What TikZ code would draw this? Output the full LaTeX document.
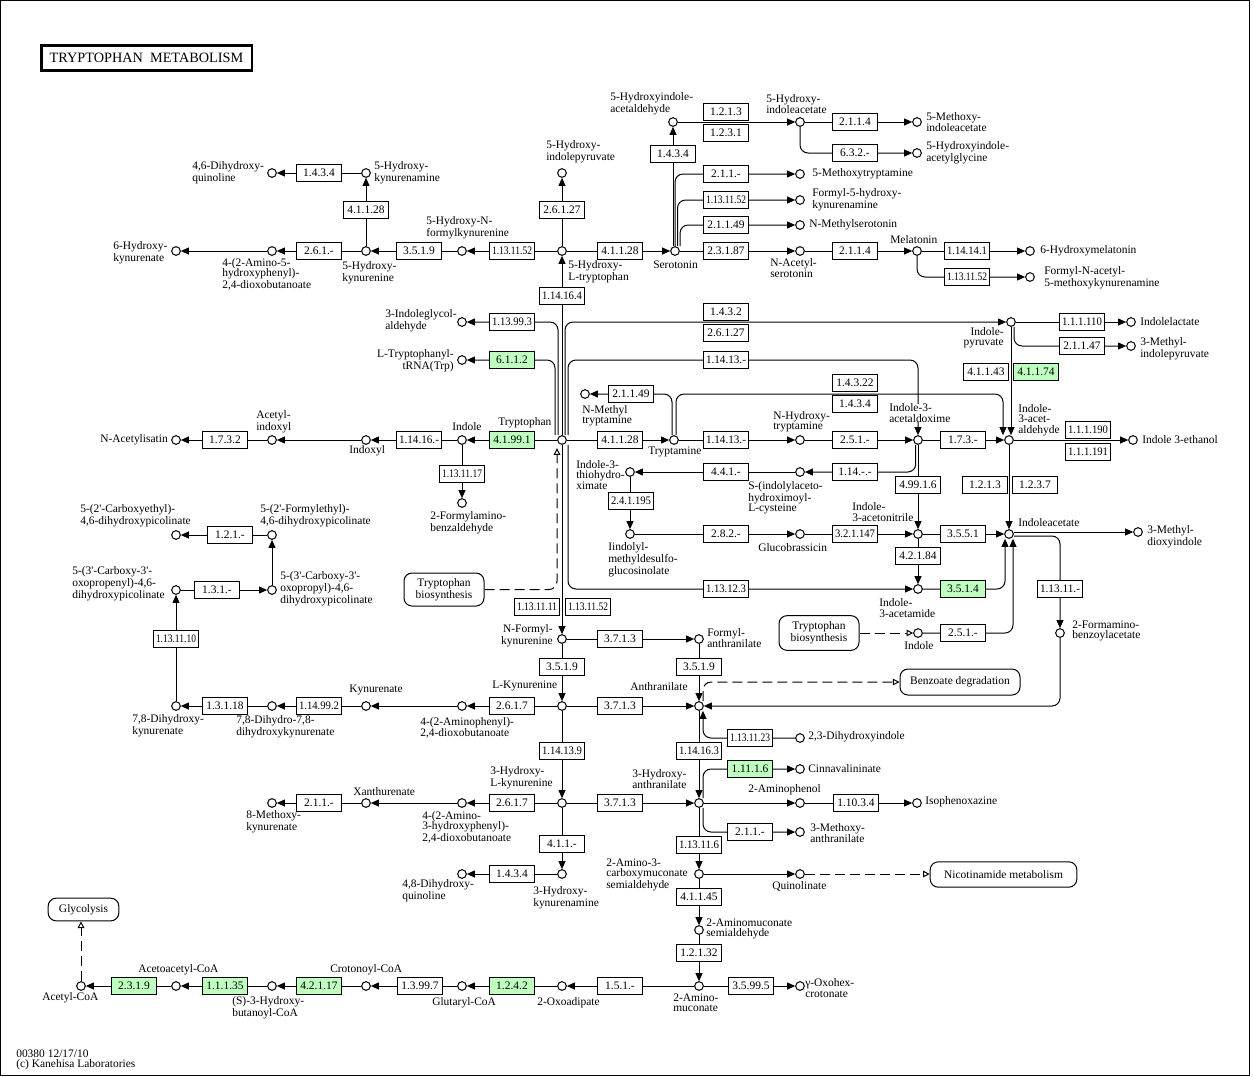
\documentclass[tikz,border=0pt]{standalone}
\usepackage{fontspec}
\setmainfont{Liberation Serif}
\usepackage{graphicx}
\usetikzlibrary{arrows.meta,backgrounds}
\definecolor{ecgreen}{RGB}{191,255,191}
\newcommand{\lblf}{\fontsize{8.6pt}{7.8pt}\selectfont}
\newcommand{\ecf}{\fontsize{8.6pt}{9pt}\selectfont}
\newcommand{\apos}{\textquotesingle}
\newsavebox{\ecbox}
\newcommand{\ecfit}[1]{\sbox{\ecbox}{#1}\ifdim\wd\ecbox>30pt\resizebox{30pt}{\height}{#1}\else\usebox{\ecbox}\fi}
\tikzset{
  cpd/.style={circle,draw,line width=0.75pt,minimum size=6.5pt,inner sep=0pt,fill=white},
  ecbx/.style={draw,line width=0.75pt,minimum width=34pt,minimum height=12.4pt,inner sep=0pt,font=\ecf,fill=white},
  ecgr/.style={ecbx,fill=ecgreen},
  lbl/.style={inner sep=0pt,align=left,font=\lblf},
  mapbx/.style={draw,line width=0.75pt,rounded corners=6pt,inner sep=0pt,align=center,font=\lblf,fill=white},
  conn/.style={line width=0.75pt},
  arr/.style={conn,-{Triangle[length=6pt,width=5.2pt]}},
  dsh/.style={line width=0.75pt,dash pattern=on 7.5pt off 3.75pt,-{Triangle[open,length=5pt,width=5pt,fill=white]}},
  rc/.style={rounded corners=6pt}
}
\begin{document}
\begin{tikzpicture}[x=0.75pt,y=-0.75pt]
\useasboundingbox (0,0) rectangle (1254,1076);
\draw[line width=0.75pt] (0.5,0.5) rectangle (1249,1075.5);
\node[draw,line width=2pt,minimum width=158pt,minimum height=18.5pt,inner sep=0pt,font=\fontsize{10.7pt}{11pt}\selectfont] (title) at (146.5,58) {TRYPTOPHAN\ \ METABOLISM};

% ---------- compounds ----------
\node[cpd] (hia) at (673,122) {};
\node[cpd] (hiaa) at (800,122) {};
\node[cpd] (mia) at (917,122) {};
\node[cpd] (higly) at (917,153) {};
\node[cpd] (hip) at (562,173) {};
\node[cpd] (htp) at (562,251) {};
\node[cpd] (hnfk) at (462,251) {};
\node[cpd] (hk) at (366,251) {};
\node[cpd] (ahd) at (272,251) {};
\node[cpd] (hkyna) at (176,251) {};
\node[cpd] (hkam) at (366,173) {};
\node[cpd] (dhqa) at (272,173) {};
\node[cpd] (sero) at (675,251) {};
\node[cpd] (mtam) at (800,174) {};
\node[cpd] (fhk) at (800,200) {};
\node[cpd] (nms) at (800,225) {};
\node[cpd] (nas) at (800,251) {};
\node[cpd] (mel) at (917,251) {};
\node[cpd] (hmel) at (1030,251) {};
\node[cpd] (famk) at (1030,277) {};
\node[cpd] (igald) at (462,322) {};
\node[cpd] (trna) at (462,360) {};
\node[cpd] (trp) at (562,440) {};
\node[cpd] (ind) at (462,440) {};
\node[cpd] (indx) at (366,440) {};
\node[cpd] (acind) at (272,440) {};
\node[cpd] (nai) at (176,440) {};
\node[cpd] (fab) at (462,503) {};
\node[cpd] (tam) at (674,440) {};
\node[cpd] (nmt) at (585,394) {};
\node[cpd] (nht) at (800,440) {};
\node[cpd] (iaox) at (918,440) {};
\node[cpd] (iald) at (1009,440) {};
\node[cpd] (ieth) at (1133,440) {};
\node[cpd] (ipyr) at (1011,322) {};
\node[cpd] (ilac) at (1131,322) {};
\node[cpd] (mip) at (1131,346) {};
\node[cpd] (ith) at (630,472) {};
\node[cpd] (sic) at (800,472) {};
\node[cpd] (imd) at (630,534) {};
\node[cpd] (gbr) at (800,534) {};
\node[cpd] (ian) at (918,534) {};
\node[cpd] (iaa) at (1009,534) {};
\node[cpd] (mdi) at (1138,532) {};
\node[cpd] (iam) at (918,589) {};
\node[cpd] (indb) at (918,633) {};
\node[cpd] (fba) at (1060,633) {};
\node[cpd] (cep) at (176,535) {};
\node[cpd] (fep) at (272,535) {};
\node[cpd] (copl) at (272,590) {};
\node[cpd] (cope) at (176,590) {};
\node[cpd] (nfk) at (562,639) {};
\node[cpd] (fan) at (699,639) {};
\node[cpd] (lkyn) at (562,706) {};
\node[cpd] (anth) at (699,706) {};
\node[cpd] (apd) at (462,706) {};
\node[cpd] (kyna) at (366,706) {};
\node[cpd] (dhdk) at (272,706) {};
\node[cpd] (dhk) at (176,706) {};
\node[cpd] (hkb) at (562,803) {};
\node[cpd] (haa) at (699,803) {};
\node[cpd] (ahpd) at (462,803) {};
\node[cpd] (xan) at (366,803) {};
\node[cpd] (mkyn) at (272,803) {};
\node[cpd] (hkamb) at (562,874) {};
\node[cpd] (dhqb) at (462,874) {};
\node[cpd] (dhi) at (800,738) {};
\node[cpd] (cinn) at (800,769) {};
\node[cpd] (aph) at (800,803) {};
\node[cpd] (iso) at (917,803) {};
\node[cpd] (man) at (800,832) {};
\node[cpd] (acms) at (699,874) {};
\node[cpd] (quin) at (800,874) {};
\node[cpd] (ams) at (699,930) {};
\node[cpd] (amu) at (699,986) {};
\node[cpd] (oxo) at (800,986) {};
\node[cpd] (oxad) at (562,986) {};
\node[cpd] (glut) at (462,986) {};
\node[cpd] (crot) at (366,986) {};
\node[cpd] (hbut) at (272,986) {};
\node[cpd] (acac) at (176,986) {};
\node[cpd] (acoa) at (81,986) {};

% ---------- map boxes ----------
\node[mapbx,minimum width=60pt,minimum height=24.75pt] (trpbio1) at (444,589.5) {Tryptophan\\biosynthesis};
\node[mapbx,minimum width=60pt,minimum height=26pt] (trpbio2) at (819,633) {Tryptophan\\biosynthesis};
\node[mapbx,minimum width=90pt,minimum height=19.5pt] (benz) at (960,682) {Benzoate degradation};
\node[mapbx,minimum width=110pt,minimum height=19pt] (nico) at (1003.5,874.5) {Nicotinamide metabolism};
\node[mapbx,minimum width=53pt,minimum height=17pt] (glyc) at (83.5,909.5) {Glycolysis};

% ---------- enzymes ----------
\node[ecbx] (e1) at (726,112) {\ecfit{1.2.1.3}};
\node[ecbx] (e2) at (726,133) {\ecfit{1.2.3.1}};
\node[ecbx] (e3) at (855,122) {\ecfit{2.1.1.4}};
\node[ecbx] (e4) at (855,153) {\ecfit{6.3.2.-}};
\node[ecbx] (e5) at (673,154) {\ecfit{1.4.3.4}};
\node[ecbx] (e6) at (726,174) {\ecfit{2.1.1.-}};
\node[ecbx] (e7) at (726,200) {\ecfit{1.13.11.52}};
\node[ecbx] (e8) at (726,225) {\ecfit{2.1.1.49}};
\node[ecbx] (e9) at (726,251) {\ecfit{2.3.1.87}};
\node[ecbx] (e10) at (855,251) {\ecfit{2.1.1.4}};
\node[ecbx] (e11) at (967,251) {\ecfit{1.14.14.1}};
\node[ecbx] (e12) at (967,277) {\ecfit{1.13.11.52}};
\node[ecbx] (e13) at (620,251) {\ecfit{4.1.1.28}};
\node[ecbx] (e14) at (562,210) {\ecfit{2.6.1.27}};
\node[ecbx] (e15) at (512,251) {\ecfit{1.13.11.52}};
\node[ecbx] (e16) at (419,251) {\ecfit{3.5.1.9}};
\node[ecbx] (e17) at (319,251) {\ecfit{2.6.1.-}};
\node[ecbx] (e18) at (366,210) {\ecfit{4.1.1.28}};
\node[ecbx] (e19) at (319,173) {\ecfit{1.4.3.4}};
\node[ecbx] (e20) at (562,296) {\ecfit{1.14.16.4}};
\node[ecbx] (e21) at (512,322) {\ecfit{1.13.99.3}};
\node[ecgr] (e22) at (512,360) {\ecfit{6.1.1.2}};
\node[ecbx] (e23) at (726,312) {\ecfit{1.4.3.2}};
\node[ecbx] (e24) at (726,333) {\ecfit{2.6.1.27}};
\node[ecbx] (e25) at (726,360) {\ecfit{1.14.13.-}};
\node[ecgr] (e26) at (512,440) {\ecfit{4.1.99.1}};
\node[ecbx] (e27) at (419,440) {\ecfit{1.14.16.-}};
\node[ecbx] (e28) at (225,440) {\ecfit{1.7.3.2}};
\node[ecbx] (e29) at (462,474) {\ecfit{1.13.11.17}};
\node[ecbx] (e30) at (620,440) {\ecfit{4.1.1.28}};
\node[ecbx] (e31) at (631,394) {\ecfit{2.1.1.49}};
\node[ecbx] (e32) at (726,440) {\ecfit{1.14.13.-}};
\node[ecbx] (e33) at (855,440) {\ecfit{2.5.1.-}};
\node[ecbx] (e34) at (963,440) {\ecfit{1.7.3.-}};
\node[ecbx] (e35) at (1088,430) {\ecfit{1.1.1.190}};
\node[ecbx] (e36) at (1088,452) {\ecfit{1.1.1.191}};
\node[ecbx] (e37) at (855,383) {\ecfit{1.4.3.22}};
\node[ecbx] (e38) at (855,404) {\ecfit{1.4.3.4}};
\node[ecbx] (e39) at (1082,322) {\ecfit{1.1.1.110}};
\node[ecbx] (e40) at (1082,346) {\ecfit{2.1.1.47}};
\node[ecbx] (e41) at (986,372) {\ecfit{4.1.1.43}};
\node[ecgr] (e42) at (1036,372) {\ecfit{4.1.1.74}};
\node[ecbx] (e43) at (726,472) {\ecfit{4.4.1.-}};
\node[ecbx] (e44) at (855,472) {\ecfit{1.14.-.-}};
\node[ecbx] (e45) at (631,501) {\ecfit{2.4.1.195}};
\node[ecbx] (e46) at (726,534) {\ecfit{2.8.2.-}};
\node[ecbx] (e47) at (855,534) {\ecfit{3.2.1.147}};
\node[ecbx] (e48) at (918,485) {\ecfit{4.99.1.6}};
\node[ecbx] (e49) at (985,485) {\ecfit{1.2.1.3}};
\node[ecbx] (e50) at (1035,485) {\ecfit{1.2.3.7}};
\node[ecbx] (e51) at (963,534) {\ecfit{3.5.5.1}};
\node[ecbx] (e52) at (918,556) {\ecfit{4.2.1.84}};
\node[ecgr] (e53) at (963,589) {\ecfit{3.5.1.4}};
\node[ecbx] (e54) at (726,589) {\ecfit{1.13.12.3}};
\node[ecbx] (e55) at (1060,589) {\ecfit{1.13.11.-}};
\node[ecbx] (e56) at (963,633) {\ecfit{2.5.1.-}};
\node[ecbx] (e57) at (537,607) {\ecfit{1.13.11.11}};
\node[ecbx] (e58) at (588,607) {\ecfit{1.13.11.52}};
\node[ecbx] (e59) at (230,535) {\ecfit{1.2.1.-}};
\node[ecbx] (e60) at (217,590) {\ecfit{1.3.1.-}};
\node[ecbx] (e61) at (176,639) {\ecfit{1.13.11.10}};
\node[ecbx] (e62) at (620,639) {\ecfit{3.7.1.3}};
\node[ecbx] (e63) at (562,667) {\ecfit{3.5.1.9}};
\node[ecbx] (e64) at (699,667) {\ecfit{3.5.1.9}};
\node[ecbx] (e65) at (620,706) {\ecfit{3.7.1.3}};
\node[ecbx] (e66) at (512,706) {\ecfit{2.6.1.7}};
\node[ecbx] (e67) at (319,706) {\ecfit{1.14.99.2}};
\node[ecbx] (e68) at (225,706) {\ecfit{1.3.1.18}};
\node[ecbx] (e69) at (562,751) {\ecfit{1.14.13.9}};
\node[ecbx] (e70) at (699,751) {\ecfit{1.14.16.3}};
\node[ecbx] (e71) at (750,738) {\ecfit{1.13.11.23}};
\node[ecgr] (e72) at (750,769) {\ecfit{1.11.1.6}};
\node[ecbx] (e73) at (620,803) {\ecfit{3.7.1.3}};
\node[ecbx] (e74) at (512,803) {\ecfit{2.6.1.7}};
\node[ecbx] (e75) at (319,803) {\ecfit{2.1.1.-}};
\node[ecbx] (e76) at (856,803) {\ecfit{1.10.3.4}};
\node[ecbx] (e77) at (750,832) {\ecfit{2.1.1.-}};
\node[ecbx] (e78) at (562,844) {\ecfit{4.1.1.-}};
\node[ecbx] (e79) at (512,874) {\ecfit{1.4.3.4}};
\node[ecbx] (e80) at (699,845) {\ecfit{1.13.11.6}};
\node[ecbx] (e81) at (699,897) {\ecfit{4.1.1.45}};
\node[ecbx] (e82) at (699,953) {\ecfit{1.2.1.32}};
\node[ecbx] (e83) at (751,986) {\ecfit{3.5.99.5}};
\node[ecbx] (e84) at (620,986) {\ecfit{1.5.1.-}};
\node[ecgr] (e85) at (512,986) {\ecfit{1.2.4.2}};
\node[ecbx] (e86) at (420,986) {\ecfit{1.3.99.7}};
\node[ecgr] (e87) at (319,986) {\ecfit{4.2.1.17}};
\node[ecgr] (e88) at (225,986) {\ecfit{1.1.1.35}};
\node[ecgr] (e89) at (134,986) {\ecfit{2.3.1.9}};

% ---------- labels ----------
\node[lbl,anchor=west] (l1) at (610,104) {5-Hydroxyindole-\\acetaldehyde};
\node[lbl,anchor=west] (l2) at (766,104) {5-Hydroxy-\\indoleacetate};
\node[lbl,anchor=west] (l3) at (926,122) {5-Methoxy-\\indoleacetate};
\node[lbl,anchor=west] (l4) at (926,153) {5-Hydroxyindole-\\acetylglycine};
\node[lbl,anchor=west] (l5) at (812,174) {5-Methoxytryptamine};
\node[lbl,anchor=west] (l6) at (812,200) {Formyl-5-hydroxy-\\kynurenamine};
\node[lbl,anchor=west] (l7) at (809,225) {N-Methylserotonin};
\node[lbl,anchor=west] (l8) at (770,268) {N-Acetyl-\\serotonin};
\node[lbl,anchor=west] (l9) at (890,240) {Melatonin};
\node[lbl,anchor=west] (l10) at (1040,251) {6-Hydroxymelatonin};
\node[lbl,anchor=west] (l11) at (1044,278) {Formyl-N-acetyl-\\5-methoxykynurenamine};
\node[lbl,anchor=west] (l12) at (653,265) {Serotonin};
\node[lbl,anchor=west] (l13) at (546,152) {5-Hydroxy-\\indolepyruvate};
\node[lbl,anchor=west] (l14) at (568,272) {5-Hydroxy-\\L-tryptophan};
\node[lbl,anchor=west] (l15) at (426,228) {5-Hydroxy-N-\\formylkynurenine};
\node[lbl,anchor=west] (l16) at (342,273) {5-Hydroxy-\\kynurenine};
\node[lbl,anchor=west] (l17) at (222,274) {4-(2-Amino-5-\\hydroxyphenyl)-\\2,4-dioxobutanoate};
\node[lbl,anchor=west] (l18) at (113,253) {6-Hydroxy-\\kynurenate};
\node[lbl,anchor=west] (l19) at (192,173) {4,6-Dihydroxy-\\quinoline};
\node[lbl,anchor=west] (l20) at (374,173) {5-Hydroxy-\\kynurenamine};
\node[lbl,anchor=west] (l21) at (385,321) {3-Indoleglycol-\\aldehyde};
\node[lbl,anchor=east,align=right] (l22) at (454,361) {L-Tryptophanyl-\\tRNA(Trp)};
\node[lbl,anchor=west] (l23) at (498,423) {Tryptophan};
\node[lbl,anchor=west] (l24) at (452,427) {Indole};
\node[lbl,anchor=west] (l25) at (349,451) {Indoxyl};
\node[lbl,anchor=west] (l26) at (256,422) {Acetyl-\\indoxyl};
\node[lbl,anchor=west] (l27) at (100,440) {N-Acetylisatin};
\node[lbl,anchor=west] (l28) at (430,523) {2-Formylamino-\\benzaldehyde};
\node[lbl,anchor=west] (l29) at (582,416) {N-Methyl\\tryptamine};
\node[lbl,anchor=west] (l30) at (648,452) {Tryptamine};
\node[lbl,anchor=west] (l31) at (773,422) {N-Hydroxy-\\tryptamine};
\node[lbl,anchor=west,fill=white] (l32) at (889,413) {Indole-3-\\acetaldoxime};
\node[lbl,anchor=west] (l33) at (1018,420) {Indole-\\3-acet-\\aldehyde};
\node[lbl,anchor=west] (l34) at (1142,440) {Indole 3-ethanol};
\node[lbl,anchor=east,align=right] (l35) at (1004,338) {Indole-\\pyruvate};
\node[lbl,anchor=west] (l36) at (1140,322) {Indolelactate};
\node[lbl,anchor=west] (l37) at (1140,349) {3-Methyl-\\indolepyruvate};
\node[lbl,anchor=west] (l38) at (576,475) {Indole-3-\\thiohydro-\\ximate};
\node[lbl,anchor=west] (l39) at (748,498) {S-(indolylaceto-\\hydroximoyl-\\L-cysteine};
\node[lbl,anchor=west] (l40) at (608,560) {Iindolyl-\\methyldesulfo-\\glucosinolate};
\node[lbl,anchor=west] (l41) at (758,548) {Glucobrassicin};
\node[lbl,anchor=west] (l42) at (852,512) {Indole-\\3-acetonitrile};
\node[lbl,anchor=west] (l43) at (1018,523) {Indoleacetate};
\node[lbl,anchor=west] (l44) at (1147,537) {3-Methyl-\\dioxyindole};
\node[lbl,anchor=west] (l45) at (879,608) {Indole-\\3-acetamide};
\node[lbl,anchor=west] (l46) at (904,646) {Indole};
\node[lbl,anchor=west] (l47) at (1072,631) {2-Formamino-\\benzoylacetate};
\node[lbl,anchor=west] (l48) at (80,516) {5-(2\apos-Carboxyethyl)-\\4,6-dihydroxypicolinate};
\node[lbl,anchor=west] (l49) at (260,516) {5-(2\apos-Formylethyl)-\\4,6-dihydroxypicolinate};
\node[lbl,anchor=west] (l50) at (280,589) {5-(3\apos-Carboxy-3\apos-\\oxopropyl)-4,6-\\dihydroxypicolinate};
\node[lbl,anchor=west] (l51) at (72,584) {5-(3\apos-Carboxy-3\apos-\\oxopropenyl)-4,6-\\dihydroxypicolinate};
\node[lbl,anchor=east,align=right] (l52) at (553,636) {N-Formyl-\\kynurenine};
\node[lbl,anchor=west] (l53) at (707,638) {Formyl-\\anthranilate};
\node[lbl,anchor=west] (l54) at (492,686) {L-Kynurenine};
\node[lbl,anchor=west] (l55) at (630,687) {Anthranilate};
\node[lbl,anchor=west] (l56) at (420,728) {4-(2-Aminophenyl)-\\2,4-dioxobutanoate};
\node[lbl,anchor=west] (l57) at (349,690) {Kynurenate};
\node[lbl,anchor=west] (l58) at (236,727) {7,8-Dihydro-7,8-\\dihydroxykynurenate};
\node[lbl,anchor=west] (l59) at (132,726) {7,8-Dihydroxy-\\kynurenate};
\node[lbl,anchor=west] (l60) at (490,778) {3-Hydroxy-\\L-kynurenine};
\node[lbl,anchor=west] (l61) at (632,779) {3-Hydroxy-\\anthranilate};
\node[lbl,anchor=west] (l62) at (422,827) {4-(2-Amino-\\3-hydroxyphenyl)-\\2,4-dioxobutanoate};
\node[lbl,anchor=west] (l63) at (353,792) {Xanthurenate};
\node[lbl,anchor=west] (l64) at (246,822) {8-Methoxy-\\kynurenate};
\node[lbl,anchor=west] (l65) at (808,737) {2,3-Dihydroxyindole};
\node[lbl,anchor=west] (l66) at (808,769) {Cinnavalininate};
\node[lbl,anchor=west] (l67) at (748,790) {2-Aminophenol};
\node[lbl,anchor=west] (l68) at (925,802) {Isophenoxazine};
\node[lbl,anchor=west] (l69) at (810,833) {3-Methoxy-\\anthranilate};
\node[lbl,anchor=west] (l70) at (606,875) {2-Amino-3-\\carboxymuconate\\semialdehyde};
\node[lbl,anchor=west] (l71) at (772,886) {Quinolinate};
\node[lbl,anchor=west] (l72) at (533,898) {3-Hydroxy-\\kynurenamine};
\node[lbl,anchor=west] (l73) at (402,891) {4,8-Dihydroxy-\\quinoline};
\node[lbl,anchor=west] (l74) at (706,929) {2-Aminomuconate\\semialdehyde};
\node[lbl,anchor=west] (l75) at (673,1003) {2-Amino-\\muconate};
\node[lbl,anchor=west] (l76) at (805,988) {γ-Oxohex-\\crotonate};
\node[lbl,anchor=west] (l77) at (537,1003) {2-Oxoadipate};
\node[lbl,anchor=west] (l78) at (432,1003) {Glutaryl-CoA};
\node[lbl,anchor=west] (l79) at (330,970) {Crotonoyl-CoA};
\node[lbl,anchor=west] (l80) at (232,1008) {(S)-3-Hydroxy-\\butanoyl-CoA};
\node[lbl,anchor=west] (l81) at (138,970) {Acetoacetyl-CoA};
\node[lbl,anchor=west] (l82) at (42,998) {Acetyl-CoA};
\node[lbl,anchor=west] (l83) at (16,1060) {00380 12/17/10\\(c) Kanehisa Laboratories};

% ---------- connectors ----------
\begin{scope}[on background layer]
\coordinate (trp-d) at ([xshift=-3.75pt,yshift=-2.5pt]trp.south);
\coordinate (iald-a) at ([xshift=-4.5pt]iald.north);
\coordinate (iald-b) at ([xshift=1.5pt]iald.north);
\coordinate (iaa-a) at ([xshift=-3pt]iaa.south);
\coordinate (iaa-b) at ([xshift=3pt]iaa.south);
\coordinate (anth-b) at ([xshift=3pt]anth.south);
\coordinate (iaox-c) at (iaox |- e25);
% top
\draw[arr] (hia) -- (hiaa);
\draw[arr] (hiaa) -- (mia);
\draw[arr,rc] (hiaa) |- (higly);
\draw[arr] (sero.north -| hia) -- (hia);
\draw[arr,rc] (sero.north) |- (mtam);
\draw[arr,rc] ([xshift=1.9pt]sero.north) |- (fhk);
\draw[arr,rc] ([xshift=3.8pt]sero.north) |- (nms);
\draw[arr] (sero) -- (nas);
\draw[arr] (nas) -- (mel);
\draw[arr] (mel) -- (hmel);
\draw[arr,rc] (mel) |- (famk);
\draw[arr] (htp) -- (sero);
\draw[arr] (htp) -- (hip);
\draw[arr] (htp) -- (hnfk);
\draw[arr] (hnfk) -- (hk);
\draw[arr] (hk) -- (ahd);
\draw[arr] (ahd) -- (hkyna);
\draw[arr] (hk) -- (hkam);
\draw[arr] (hkam) -- (dhqa);
% tryptophan
\draw[arr] (trp) -- (htp);
\draw[arr,rc] ([xshift=-3pt]trp.north) |- (igald);
\draw[arr,rc] ([xshift=-5.25pt]trp.north) |- (trna);
\draw[arr,rc] ([xshift=2.25pt]trp.north) |- (ipyr);
\draw[arr,rc] ([xshift=4.5pt]trp.north) |- (iaox-c) -- (iaox);
\draw[arr,rc] ([xshift=4.5pt]trp.south) |- (iam);
\draw[arr] (trp) -- (nfk);
\draw[arr] (trp) -- (ind);
\draw[arr] (ind) -- (indx);
\draw[arr] (indx) -- (acind);
\draw[arr] (acind) -- (nai);
\draw[arr] (ind) -- (fab);
\draw[dsh,rc] (trpbio1.east) -| (trp-d);
\draw[arr] (trp) -- (tam);
\draw[arr,rc] ([xshift=-1.5pt]tam.north) |- (nmt);
\draw[arr,rc] ([xshift=1.5pt]tam.north) |- (iald-a |- nmt) -- (iald-a);
\draw[arr] (ipyr) -- (iald-b);
\draw[arr] (ipyr) -- (ilac);
\draw[arr,rc] ([xshift=2.25pt]ipyr.south) |- (mip);
\draw[arr] (tam) -- (nht);
\draw[arr] (nht) -- (iaox);
\draw[arr] (iaox) -- (iald);
\draw[arr] (iald) -- (ieth);
\draw[arr] (iald) -- (iaa);
\draw[arr] (iaox) -- (ian);
\draw[arr,rc] ([xshift=-1.7pt]iaox.south) |- (sic);
\draw[arr] (sic) -- (ith);
\draw[arr] (ith) -- (imd);
\draw[arr] (imd) -- (gbr);
\draw[arr] (gbr) -- (ian);
\draw[arr] (ian) -- (iaa);
\draw[arr] (ian) -- (iam);
\draw[arr,rc] (iam) -| (iaa-a);
\draw[arr,rc] (indb) -| (iaa-b);
\draw[dsh] (trpbio2.east |- indb) -- (indb);
\draw[arr] (iaa.east |- mdi) -- (mdi);
\draw[arr,rc] ([yshift=-1.5pt]iaa.east) -| (fba);
\draw[arr,rc] (fba) |- (anth);
% picolinates
\draw[arr] (dhk) -- (cope);
\draw[arr] (cope) -- (copl);
\draw[arr] (copl) -- (fep);
\draw[arr] (fep) -- (cep);
% kynurenine
\draw[arr] (nfk) -- (fan);
\draw[arr] (fan) -- (anth);
\draw[arr] (nfk) -- (lkyn);
\draw[arr] (lkyn) -- (anth);
\draw[arr] (lkyn) -- (apd);
\draw[arr] (apd) -- (kyna);
\draw[arr] (kyna) -- (dhdk);
\draw[arr] (dhdk) -- (dhk);
\draw[arr] (lkyn) -- (hkb);
\draw[arr] (hkb) -- (haa);
\draw[arr] (anth) -- (haa);
\draw[arr,rc] (dhi) -| (anth-b);
\draw[dsh,rc] ([xshift=3pt]anth.north) |- (benz);
\draw[arr,rc] ([xshift=3pt]haa.north) |- (cinn);
\draw[arr] (haa) -- (aph);
\draw[arr] (aph) -- (iso);
\draw[arr,rc] ([xshift=3pt]haa.south) |- (man);
\draw[arr] (haa) -- (acms);
\draw[arr] (acms) -- (quin);
\draw[dsh] (quin) -- (quin -| nico.west);
\draw[arr] (acms) -- (ams);
\draw[arr] (ams) -- (amu);
\draw[arr] (amu) -- (oxo);
\draw[arr] (amu) -- (oxad);
\draw[arr] (oxad) -- (glut);
\draw[arr] (glut) -- (crot);
\draw[arr] (crot) -- (hbut);
\draw[arr] (hbut) -- (acac);
\draw[arr] (acac) -- (acoa);
\draw[dsh] (acoa) -- (acoa |- glyc.south);
\draw[arr] (hkb) -- (ahpd);
\draw[arr] (ahpd) -- (xan);
\draw[arr] (xan) -- (mkyn);
\draw[arr] (hkb) -- (hkamb);
\draw[arr] (hkamb) -- (dhqb);
\end{scope}
\end{tikzpicture}
\end{document}
